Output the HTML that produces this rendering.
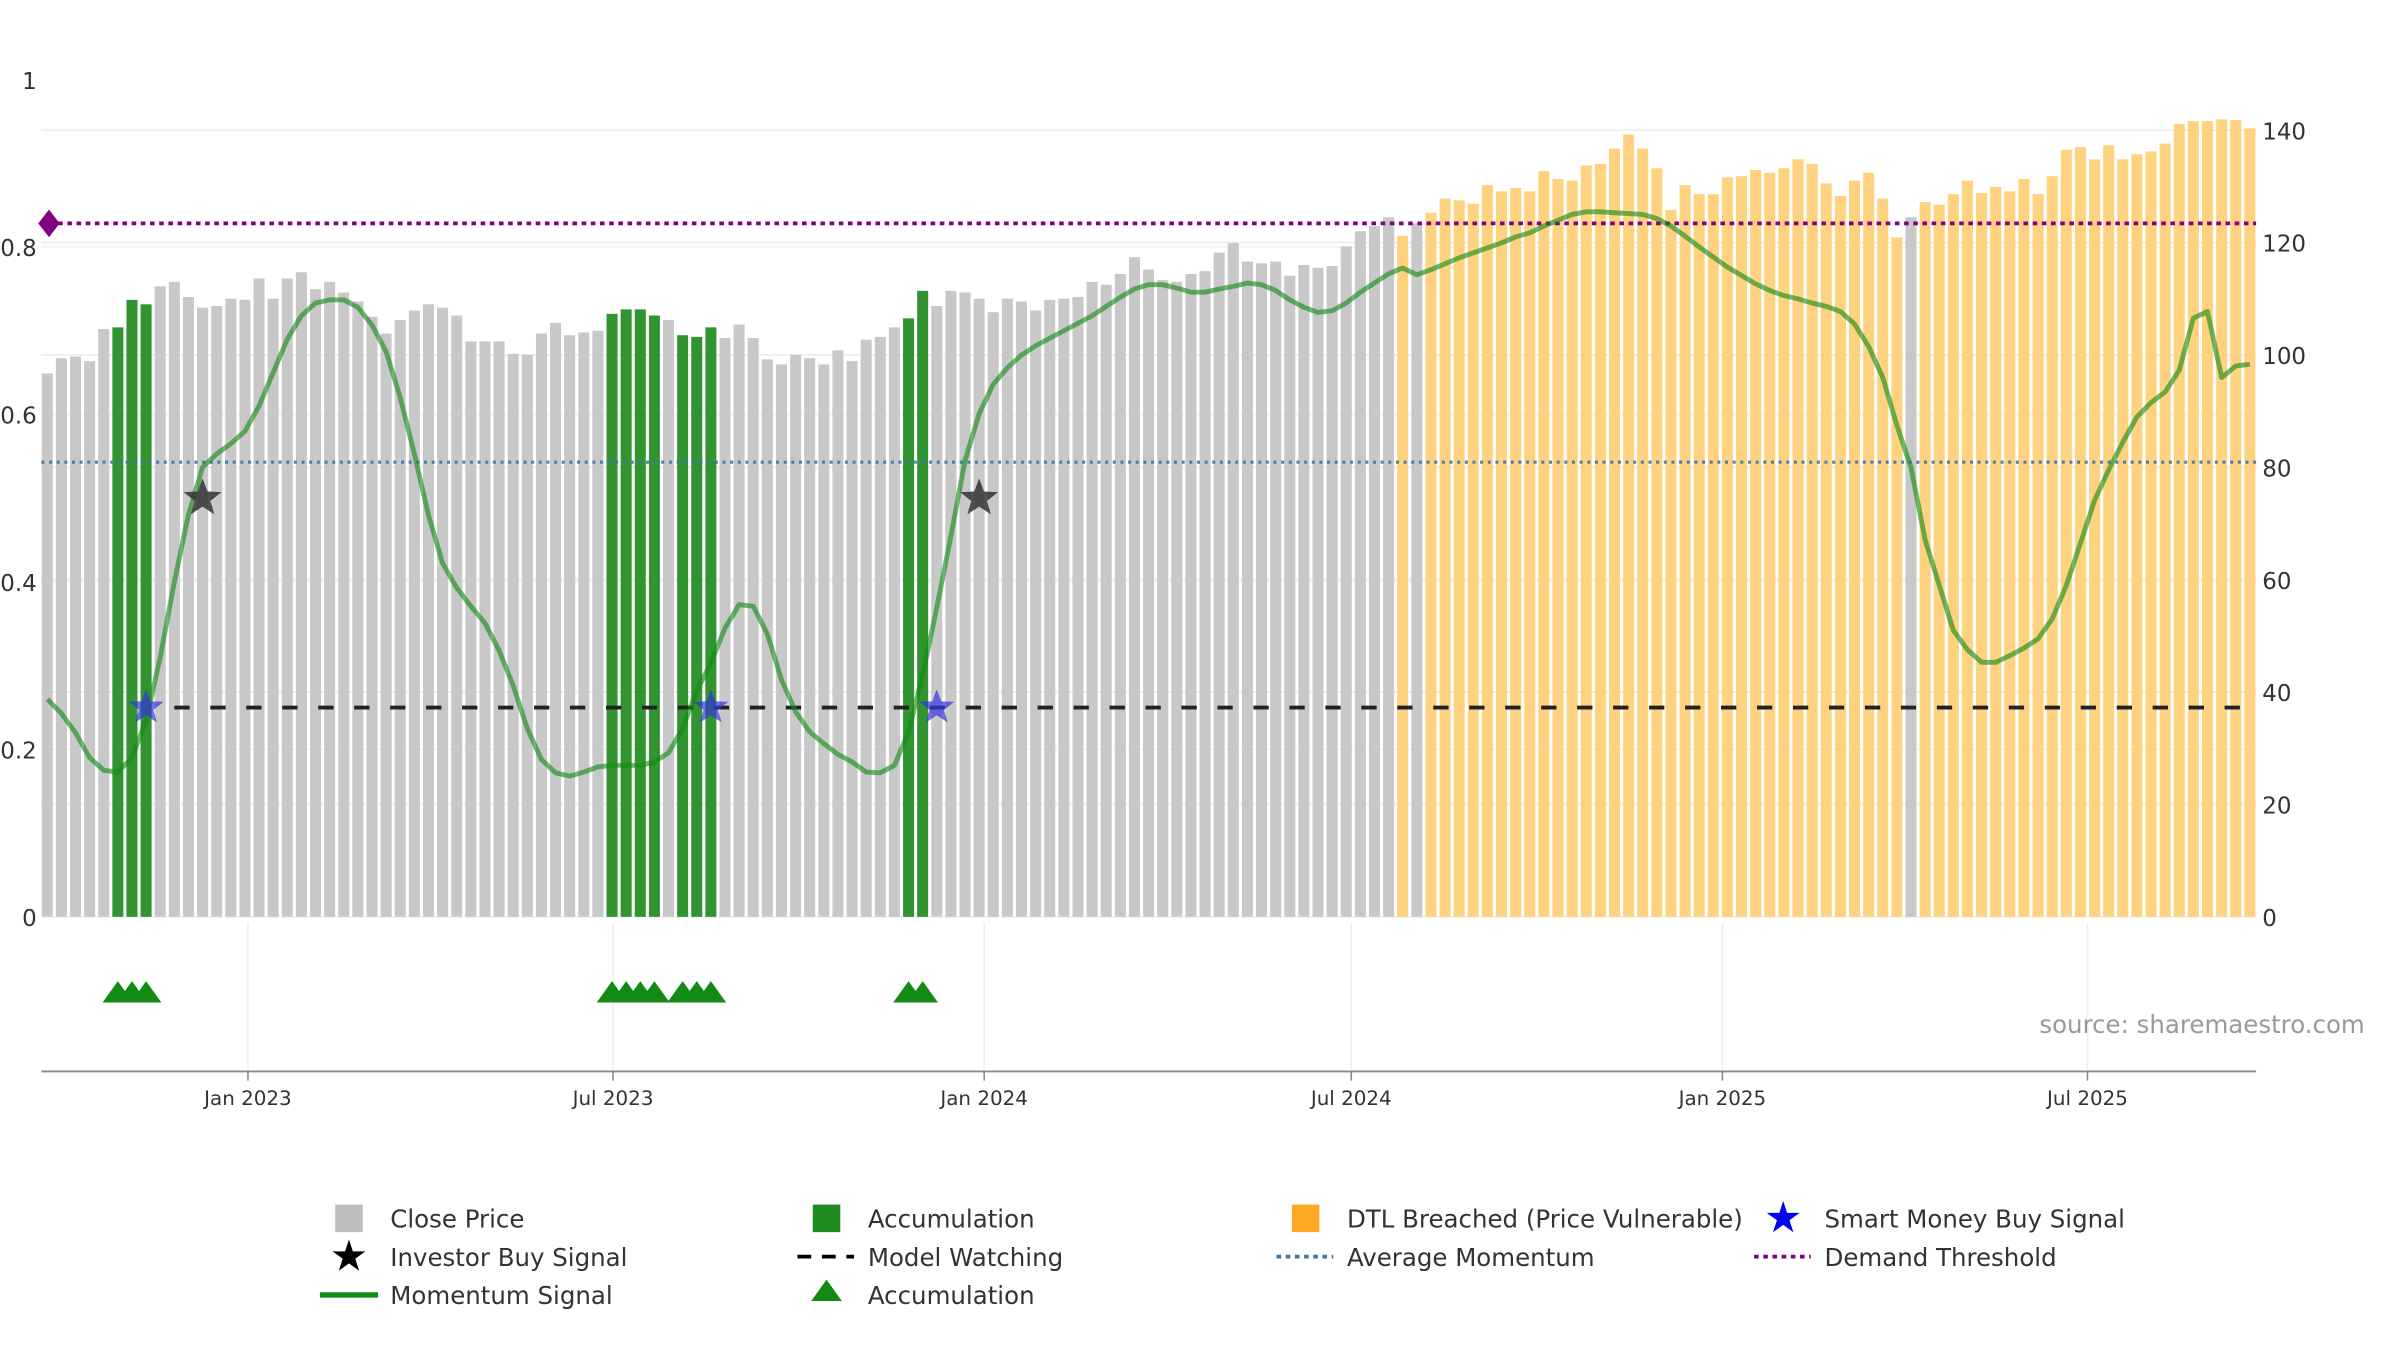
<!DOCTYPE html>
<html><head><meta charset="utf-8">
<style>
html,body{margin:0;padding:0;background:#fff;}
svg{display:block;font-family:"DejaVu Sans","Liberation Sans",sans-serif;}
</style></head>
<body>
<svg id="chart" width="2400" height="1350" viewBox="0 0 1568 882" xmlns="http://www.w3.org/2000/svg">
<g id="grid"></g>
<g id="bars"></g>
<g id="lines"></g>
<g id="momentum"></g>
<g id="markers"></g>
<g id="axes"></g>
<text x="1545" y="675" text-anchor="end" font-size="16" fill="#999">source: sharemaestro.com</text>
<g id="legend" font-size="16" fill="#333">
  <g><rect x="219" y="787" width="18" height="18" fill="#bdbdbd"/><text x="255" y="802">Close Price</text></g>
  <g><rect x="531" y="787" width="18" height="18" fill="#1f8b1f"/><text x="567" y="802">Accumulation</text></g>
  <g><rect x="844" y="787" width="18" height="18" fill="#ffa726"/><text x="880" y="802">DTL Breached (Price Vulnerable)</text></g>
  <g><text x="1165" y="805" font-size="28" fill="#0000ee" text-anchor="middle">★</text><text x="1192" y="802">Smart Money Buy Signal</text></g>
  <g><text x="228" y="830" font-size="28" fill="#000" text-anchor="middle">★</text><text x="255" y="827">Investor Buy Signal</text></g>
  <g><line x1="521" y1="821" x2="558" y2="821" stroke="#000" stroke-width="2.5" stroke-dasharray="9,7"/><text x="567" y="827">Model Watching</text></g>
  <g><line x1="834" y1="821" x2="871" y2="821" stroke="#3a78a8" stroke-width="2.5" stroke-dasharray="3,3"/><text x="880" y="827">Average Momentum</text></g>
  <g><line x1="1146" y1="821" x2="1183" y2="821" stroke="#800080" stroke-width="2.5" stroke-dasharray="3,3"/><text x="1192" y="827">Demand Threshold</text></g>
  <g><line x1="209" y1="846" x2="247" y2="846" stroke="#138a13" stroke-width="3.5"/><text x="255" y="852">Momentum Signal</text></g>
  <g><polygon points="540,836 550,850 530,850" fill="#138a13"/><text x="567" y="852">Accumulation</text></g>
</g>
</svg>
<script>
const prices = [96.7,99.4,99.7,98.9,104.6,104.9,109.8,109.0,112.2,113.0,110.3,108.4,108.7,110.0,109.8,113.6,110.0,113.6,114.7,111.7,113.0,111.1,109.5,106.8,103.8,106.2,107.9,109.0,108.4,107.0,102.4,102.4,102.4,100.2,100.0,103.8,105.7,103.5,104.0,104.3,107.3,108.1,108.1,107.0,106.2,103.5,103.2,104.9,103.0,105.4,103.0,99.2,98.3,100.0,99.4,98.3,100.8,98.9,102.7,103.2,104.9,106.5,111.4,108.7,111.4,111.1,110.0,107.6,110.0,109.5,107.9,109.8,110.0,110.3,113.0,112.5,114.4,117.4,115.2,113.3,113.0,114.4,114.9,118.2,119.9,116.6,116.3,116.6,114.1,116.0,115.5,115.8,119.3,122.0,122.9,124.5,121.2,123.4,125.3,127.8,127.5,126.9,130.2,129.1,129.7,129.1,132.7,131.3,131.0,133.7,134.0,136.7,139.2,136.7,133.2,125.8,130.2,128.6,128.6,131.6,131.8,132.9,132.4,133.2,134.8,134.0,130.5,128.3,131.0,132.4,127.8,120.9,124.5,127.2,126.7,128.6,131.0,128.8,129.9,129.1,131.3,128.6,131.8,136.5,137.0,134.8,137.3,134.8,135.7,136.2,137.6,141.1,141.6,141.6,141.9,141.8,140.3];
const momentum = [0.26,0.243,0.22,0.19,0.175,0.173,0.19,0.235,0.31,0.40,0.48,0.537,0.553,0.565,0.58,0.61,0.65,0.69,0.718,0.733,0.737,0.737,0.728,0.707,0.675,0.62,0.553,0.48,0.422,0.393,0.371,0.351,0.318,0.276,0.225,0.188,0.172,0.168,0.173,0.179,0.181,0.181,0.181,0.185,0.196,0.225,0.27,0.303,0.345,0.373,0.371,0.338,0.283,0.245,0.221,0.207,0.194,0.185,0.173,0.172,0.181,0.221,0.289,0.369,0.455,0.545,0.601,0.636,0.656,0.671,0.682,0.691,0.70,0.709,0.718,0.729,0.74,0.75,0.755,0.755,0.751,0.746,0.746,0.75,0.753,0.757,0.755,0.748,0.737,0.728,0.722,0.724,0.733,0.746,0.757,0.768,0.775,0.767,0.773,0.780,0.787,0.793,0.799,0.805,0.812,0.817,0.825,0.832,0.839,0.842,0.842,0.841,0.840,0.839,0.834,0.825,0.813,0.800,0.788,0.776,0.766,0.756,0.748,0.742,0.738,0.733,0.729,0.723,0.708,0.681,0.644,0.587,0.537,0.450,0.396,0.342,0.319,0.304,0.304,0.312,0.321,0.332,0.356,0.396,0.446,0.497,0.534,0.567,0.597,0.614,0.627,0.653,0.715,0.723,0.644,0.658,0.660];
const accumIdx = [5,6,7,40,41,42,43,45,46,47,61,62];
const dtlStart = 96;
const dtlGrayIdx = [97,132];
const smartMoneyIdx = [7,47,63];
const investorIdx = [11,66];
const demandThreshold = 123.4;
const avgMomentum = 0.543;
const modelWatching = 0.25;
const leftTicks = [0,0.2,0.4,0.6,0.8,1];
const leftTickLabels = ["0","0.2","0.4","0.6","0.8","1"];
const rightTicks = [0,20,40,60,80,100,120,140];
const dateTicks = ["2023-01-01","2023-07-01","2024-01-01","2024-07-01","2025-01-01","2025-07-01"];
const dateTickLabels = ["Jan 2023","Jul 2023","Jan 2024","Jul 2024","Jan 2025","Jul 2025"];
const firstDate = "2022-09-23";

const NS="http://www.w3.org/2000/svg";
const X0=27, X1=1474, Y0=599;
const ref=Date.parse("2023-01-01");
function xDate(d){return 162+(Date.parse(d)-ref)/86400000*1.3178;}
function xIdx(i){return 162+((Date.parse(firstDate)-ref)/86400000+7.0*i+0.5)*1.3178;}
function yR(v){return Y0-v*(514/140);}
function yL(v){return Y0-v*547;}
function mk(tag,attrs,parent){const e=document.createElementNS(NS,tag);for(const k in attrs)e.setAttribute(k,attrs[k]);parent.appendChild(e);return e;}
const grid=document.getElementById('grid'),bars=document.getElementById('bars'),lines=document.getElementById('lines'),mom=document.getElementById('momentum'),markers=document.getElementById('markers'),axes=document.getElementById('axes');

rightTicks.forEach(t=>{const l=mk('line',{x1:X0,x2:X1,y1:yR(t),y2:yR(t),stroke:'#ececec','stroke-width':1},grid);


const tx=mk('text',{x:1478,y:yR(t)+6,'font-size':15,fill:'#333'},axes);tx.textContent=String(t);

});
leftTicks.forEach((t,k)=>{if(t<1){const l=mk('line',{x1:X0,x2:X1,y1:yL(t),y2:yL(t),stroke:'#eef2f6','stroke-width':1},grid);

}
const tx=mk('text',{x:24,y:yL(t)+6,'font-size':15,fill:'#333','text-anchor':'end'},axes);tx.textContent=leftTickLabels[k];

});
dateTicks.forEach((d,k)=>{const x=xDate(d);const l=mk('line',{x1:x,x2:x,y1:603,y2:700,stroke:'#eeeeee','stroke-width':1},grid);


const tk=mk('line',{x1:x,x2:x,y1:700,y2:706,stroke:'#888'},axes);


const tx=mk('text',{x:x,y:722,'font-size':13,fill:'#333','text-anchor':'middle'},axes);tx.textContent=dateTickLabels[k];

});
const ax=mk('line',{x1:X0,x2:X1,y1:700,y2:700,stroke:'#888','stroke-width':1.2},axes);



prices.forEach((v,i)=>{let c='#c8c8c8';
if(accumIdx.includes(i))c='#1f8b1f';
else if(i>=dtlStart&&!dtlGrayIdx.includes(i))c='#ffd27f';
const x=xIdx(i);const r=mk('rect',{x:x-3.6,y:yR(v),width:7.2,height:Y0-yR(v),fill:c,opacity:accumIdx.includes(i)?0.92:1},bars);

});

let l1=mk('line',{x1:32,x2:X1,y1:yR(demandThreshold),y2:yR(demandThreshold),stroke:'#800080','stroke-width':2.5,'stroke-dasharray':'3,3'},lines);


let dm=mk('polygon',{points:`32,${yR(demandThreshold)-9} 39,${yR(demandThreshold)} 32,${yR(demandThreshold)+9} 25,${yR(demandThreshold)}`,fill:'#800080'},lines);


let l2=mk('line',{x1:X0,x2:X1,y1:yL(avgMomentum),y2:yL(avgMomentum),stroke:'#3a78a8','stroke-width':2,'stroke-dasharray':'2,3',opacity:0.9},lines);


let l3=mk('line',{x1:xIdx(9),x2:X1,y1:yL(modelWatching),y2:yL(modelWatching),stroke:'#222','stroke-width':2.5,'stroke-dasharray':'10,13.5'},lines);



const pts=momentum.map((v,i)=>xIdx(i).toFixed(1)+','+yL(v).toFixed(1)).join(' ');
let pl=mk('polyline',{points:pts,fill:'none',stroke:'#138a13','stroke-width':3.2,'stroke-linejoin':'round',opacity:0.62},mom);



function star(cx,cy,r,fill,op){const p=[];for(let k=0;k<10;k++){const a=-Math.PI/2+k*Math.PI/5;const rr=k%2?r*0.42:r;p.push((cx+rr*Math.cos(a)).toFixed(1)+','+(cy+rr*Math.sin(a)).toFixed(1));}return mk('polygon',{points:p.join(' '),fill:fill,opacity:op},markers);}
smartMoneyIdx.forEach(i=>{const s=star(xIdx(i),yL(modelWatching),12,'#3333dd',0.7);

});
investorIdx.forEach(i=>{const s=star(xIdx(i),yL(0.5),13,'#333',0.85);

});
accumIdx.forEach(i=>{const x=xIdx(i);const t=mk('polygon',{points:`${x},641 ${x+10},655 ${x-10},655`,fill:'#138a13'},markers);

});
</script>
</body></html>
